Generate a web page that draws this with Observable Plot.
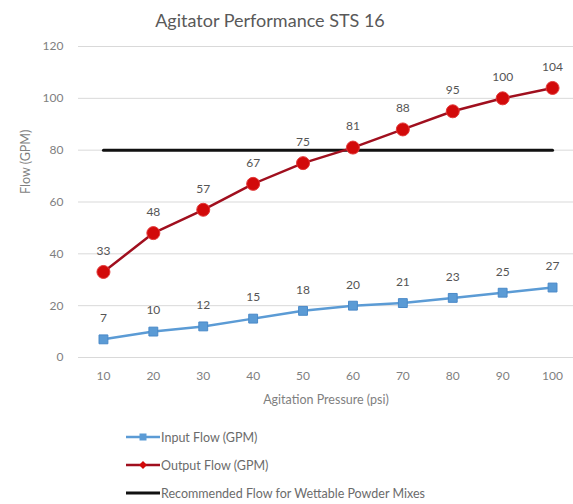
<!DOCTYPE html>
<html>
<head>
<meta charset="utf-8">
<script src="https://cdn.jsdelivr.net/npm/d3@7"></script>
<script src="https://cdn.jsdelivr.net/npm/@observablehq/plot@0.6"></script>
<style>
  body { margin: 0; background: #fff; font-family: Lato, "Open Sans", sans-serif; }
  #title { width: 540px; height: 36px; line-height: 40px; text-align: center; font-size: 18px; color: #595959; }
  #legend { padding-top: 5px; }
  .item { height: 28px; display: flex; align-items: center; font-size: 12.5px; color: #6b6b6b; padding-left: 126px; }
  .item svg { margin-right: 1px; }
</style>
</head>
<body>
<div id="title">Agitator Performance STS 16</div>
<div id="chart"></div>
<div id="legend"></div>
<script>
const pressure = [10, 20, 30, 40, 50, 60, 70, 80, 90, 100];
const inputFlow = [7, 10, 12, 15, 18, 20, 21, 23, 25, 27];
const outputFlow = [33, 48, 57, 67, 75, 81, 88, 95, 100, 104];
const recommended = [80, 80, 80, 80, 80, 80, 80, 80, 80, 80];
const yTicks = [0, 20, 40, 60, 80, 100, 120];
const seriesNames = ["Input Flow (GPM)", "Output Flow (GPM)", "Recommended Flow for Wettable Powder Mixes"];

const blue = "#5b9bd5", blueEdge = "#4a89c8";
const red = "#d20a0a", redLine = "#a00f1e";

const inp = pressure.map((p, i) => ({x: p, y: inputFlow[i]}));
const out = pressure.map((p, i) => ({x: p, y: outputFlow[i]}));
const rec = pressure.map((p, i) => ({x: p, y: recommended[i]}));

const chart = Plot.plot({
  width: 573,
  height: 382,
  marginLeft: 78,
  marginRight: 0,
  marginTop: 10,
  marginBottom: 61,
  style: {fontFamily: "Lato, 'Open Sans', sans-serif", color: "#7f7f7f", background: "#fff"},
  x: {type: "linear", domain: [5, 105], range: [78, 577]},
  y: {domain: [0, 120]},
  marks: [
    Plot.ruleY(yTicks, {stroke: "#d9d9d9", strokeWidth: 1}),
    Plot.axisY({ticks: yTicks, tickSize: 0, tickPadding: 15, fontSize: 12, label: null}),
    Plot.axisX({ticks: pressure, tickSize: 0, tickPadding: 14, fontSize: 12, label: null}),
    Plot.line(rec, {x: "x", y: "y", stroke: "#111", strokeWidth: 3}),
    Plot.line(inp, {x: "x", y: "y", stroke: blue, strokeWidth: 2.5}),
    Plot.dot(inp, {x: "x", y: "y", symbol: "square", r: 5, fill: blue, stroke: blueEdge, strokeWidth: 1}),
    Plot.line(out, {x: "x", y: "y", stroke: redLine, strokeWidth: 2.5}),
    Plot.dot(out, {x: "x", y: "y", r: 6.5, fill: red, stroke: "#e23a3a", strokeWidth: 1}),
    Plot.text(inp, {x: "x", y: "y", text: d => String(d.y), dy: -21, fontSize: 12, fill: "#555"}),
    Plot.text(out, {x: "x", y: "y", text: d => String(d.y), dy: -21, fontSize: 12, fill: "#555"}),
    Plot.text(["Agitation Pressure (psi)"], {frameAnchor: "bottom", dy: 46, fontSize: 12.5, fill: "#7f7f7f"}),
    Plot.text(["Flow (GPM)"], {frameAnchor: "left", dx: -53, dy: -8, rotate: -90, fontSize: 12.5, fill: "#7f7f7f"})
  ]
});
document.getElementById("chart").appendChild(chart);

// legend
const legend = d3.select("#legend");
const swatches = [
  {color: blue, marker: "square"},
  {color: redLine, marker: "diamond"},
  {color: "#111", marker: null}
];
seriesNames.forEach((name, i) => {
  const item = legend.append("div").attr("class", "item");
  const s = item.append("svg").attr("width", 34).attr("height", 12);
  const sw = swatches[i];
  s.append("line").attr("x1", 0).attr("x2", 34).attr("y1", 6).attr("y2", 6)
    .attr("stroke", sw.color).attr("stroke-width", i === 2 ? 3 : 2.5);
  if (sw.marker === "square") {
    s.append("rect").attr("x", 13.5).attr("y", 2.5).attr("width", 7).attr("height", 7).attr("fill", blue);
  } else if (sw.marker === "diamond") {
    s.append("path").attr("d", "M17,2 L21,6 L17,10 L13,6 Z").attr("fill", red);
  }
  item.append("span").text(name);
});
</script>
</body>
</html>
